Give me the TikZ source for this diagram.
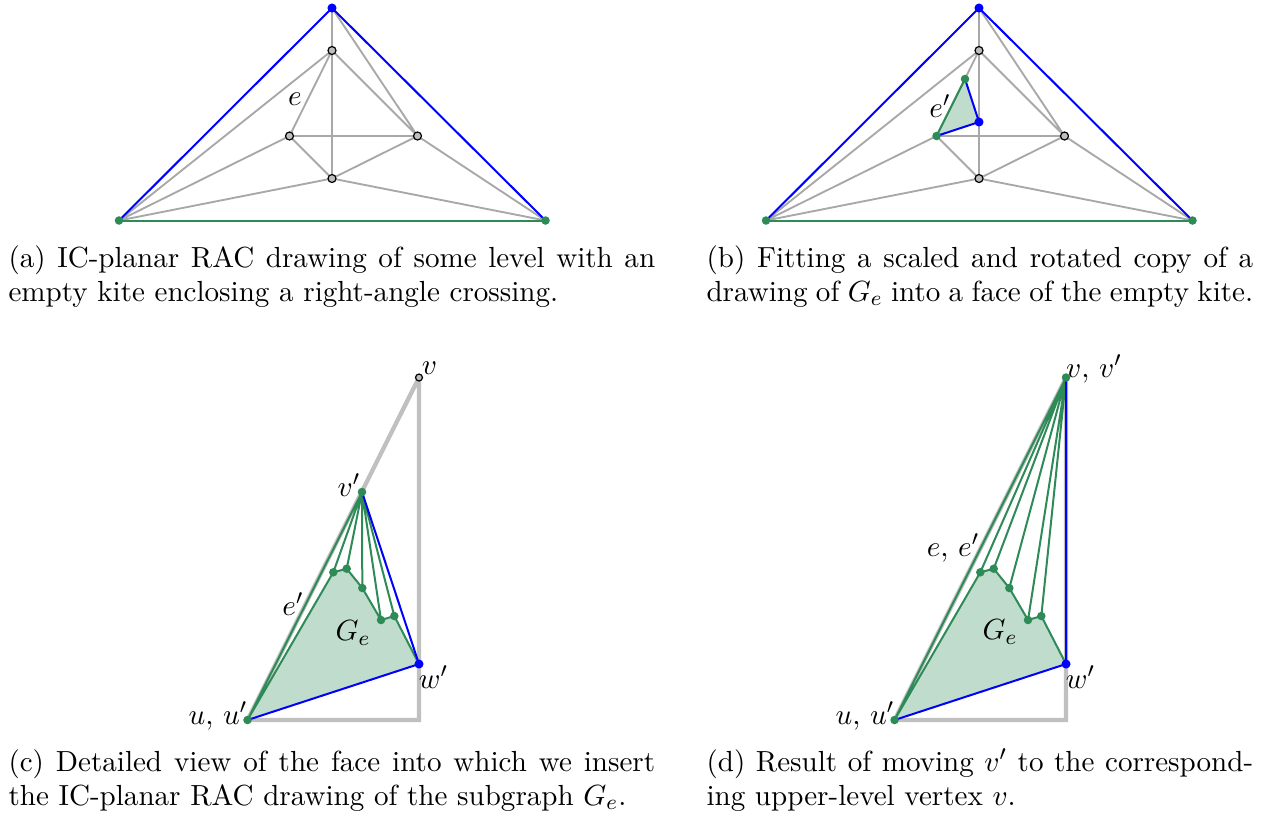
\documentclass[tikz,border=0pt]{standalone}
\usepackage{amsmath}
\definecolor{sg}{RGB}{46,139,87}
\definecolor{edgegray}{RGB}{168,168,168}
\definecolor{thkgray}{RGB}{192,192,192}
\definecolor{vgray}{RGB}{190,190,190}
\newcommand\capfont{\fontsize{10.9}{12.95}\selectfont}
\tikzset{
  gv/.style={circle,draw=black,fill=vgray,inner sep=0pt,minimum size=3pt,line width=0.45pt},
  bv/.style={circle,fill=blue,inner sep=0pt,minimum size=3.4pt},
  gnv/.style={circle,fill=sg,inner sep=0pt,minimum size=3.2pt},
  ge/.style={draw=edgegray,line width=0.7pt},
  be/.style={draw=blue,line width=0.75pt},
  gre/.style={draw=sg,line width=0.75pt},
  thk/.style={draw=thkgray,line width=1.6pt},
  gfill/.style={fill=sg!30},
  lbl/.style={inner sep=0pt,font=\capfont},
  capL/.style={anchor=base west,inner sep=0pt,text width=242.5pt,align=justify,font=\capfont},
  capR/.style={anchor=base west,inner sep=0pt,text width=205pt,align=justify,font=\capfont}
}
\newcommand\kitepts[1]{%
  \coordinate (#1t) at (332,8);
  \coordinate (#1i) at (332,50.5);
  \coordinate (#1l) at (289.5,136);
  \coordinate (#1r) at (417.5,136);
  \coordinate (#1b) at (332,178.5);
  \coordinate (#1L) at (119,220.5);
  \coordinate (#1R) at (545.5,220.5);
}
\newcommand\kiteedges[1]{%
  \draw[ge] (#1t)--(#1i) (#1i)--(#1b) (#1t)--(#1r) (#1i)--(#1l) (#1i)--(#1r)
    (#1i)--(#1L) (#1l)--(#1r) (#1l)--(#1b) (#1r)--(#1b) (#1l)--(#1L)
    (#1b)--(#1L) (#1b)--(#1R) (#1r)--(#1R);
  \draw[be] (#1t)--(#1L) (#1t)--(#1R);
  \draw[gre] (#1L)--(#1R);
}
\newcommand\facepts[1]{%
  \coordinate (#1w) at (419,664);
  \coordinate (#1u) at (247.5,720);
  \coordinate (#1c) at (419,720);
  \coordinate (#1p1) at (333.3,572.3);
  \coordinate (#1p2) at (346.7,568.7);
  \coordinate (#1p3) at (362.3,588);
  \coordinate (#1p4) at (381,620);
  \coordinate (#1p5) at (394.3,616);
}
\newcommand\facedraw[2]{% #1 prefix, #2 name of v'
  \fill[gfill] (#1u)--(#1p1)--(#1p2)--(#1p3)--(#1p4)--(#1p5)--(#1w)--cycle;
  \draw[gre] (#2)--(#1u) (#2)--(#1p1) (#2)--(#1p2) (#2)--(#1p3) (#2)--(#1p4) (#2)--(#1p5)
    (#1u)--(#1p1)--(#1p2)--(#1p3)--(#1p4)--(#1p5)--(#1w);
  \draw[be] (#2)--(#1w) (#1u)--(#1w);
  \foreach \k in {p1,p2,p3,p4,p5,u} \node[gnv] (#1n\k) at (#1\k) {};
  \node[bv] (#1nw) at (#1w) {};
}
\begin{document}
\begin{tikzpicture}[x=0.375pt,y=-0.375pt]
\useasboundingbox (0,0) rectangle (1271,816);
% ---------- (a)
\kitepts{a}
\kiteedges{a}
\node[bv] (ant) at (at) {};
\node[gnv] (anL) at (aL) {};
\node[gnv] (anR) at (aR) {};
\foreach \k in {i,l,r,b} \node[gv] (an\k) at (a\k) {};
\node[lbl] (ae) at (295,99) {$e$};
% ---------- (b)
\begin{scope}[xshift=647*0.375pt]
\kitepts{b}
\coordinate (bg) at (318,79);
\coordinate (bB) at (332,122);
\end{scope}
\kiteedges{b}
\fill[gfill] (bl)--(bg)--(bB)--cycle;
\draw[gre] (bl)--(bg);
\draw[be] (bg)--(bB)--(bl);
\node[bv] (bnt) at (bt) {};
\node[gnv] (bnL) at (bL) {};
\node[gnv] (bnR) at (bR) {};
\foreach \k in {i,r,b} \node[gv] (bn\k) at (b\k) {};
\node[gnv] (bnl) at (bl) {};
\node[gnv] (bng) at (bg) {};
\node[bv] (bnB) at (bB) {};
\node[lbl] (be) at (940,106) {$e'$};
% ---------- (c)
\facepts{c}
\coordinate (cv) at (419,377.5);
\coordinate (cvp) at (362,492);
\draw[thk] (cu)--(cv) (cv)--(cc)--(cu);
\facedraw{c}{cvp}
\node[gnv] (cnvp) at (cvp) {};
\node[gv,minimum size=2.6pt] (cnv) at (cv) {};
\node[lbl] (clv) at (429.5,368) {$v$};
\node[lbl] (clvp) at (349,485) {$v'$};
\node[lbl] (cle) at (293,604) {$e'$};
\node[lbl] (clG) at (353,633) {$G_e$};
\node[lbl] (clw) at (433.5,677) {$w'$};
\node[lbl] (clu) at (218,716) {$u,\,u'$};
% ---------- (d)
\begin{scope}[xshift=647*0.375pt]
\facepts{d}
\coordinate (dv) at (419,377.5);
\end{scope}
\draw[thk] (du)--(dv) (dv)--(dc)--(du);
\facedraw{d}{dv}
\node[gnv] (dnv) at (dv) {};
\node[lbl] (dlv) at (1094,369) {$v,\,v'$};
\node[lbl] (dle) at (953,548) {$e,\,e'$};
\node[lbl] (dlG) at (1000,632) {$G_e$};
\node[lbl] (dlw) at (1080.5,677) {$w'$};
\node[lbl] (dlu) at (865,716) {$u,\,u'$};
% ---------- captions
\node[capL] (capa) at (8,267) {(a) IC-planar RAC drawing of some level with an\linebreak empty kite enclosing a right-angle crossing.};
\node[capR] (capb) at (706,267) {(b) Fitting a scaled and rotated copy of a\linebreak drawing of $G_e$ into a face of the empty kite.};
\node[capL] (capc) at (8,771) {(c) Detailed view of the face into which we insert\linebreak the IC-planar RAC drawing of the subgraph $G_e$.};
\node[capR] (capd) at (706,771) {(d) Result of moving $v'$ to the correspond-\linebreak ing upper-level vertex $v$.};
\end{tikzpicture}
\end{document}
